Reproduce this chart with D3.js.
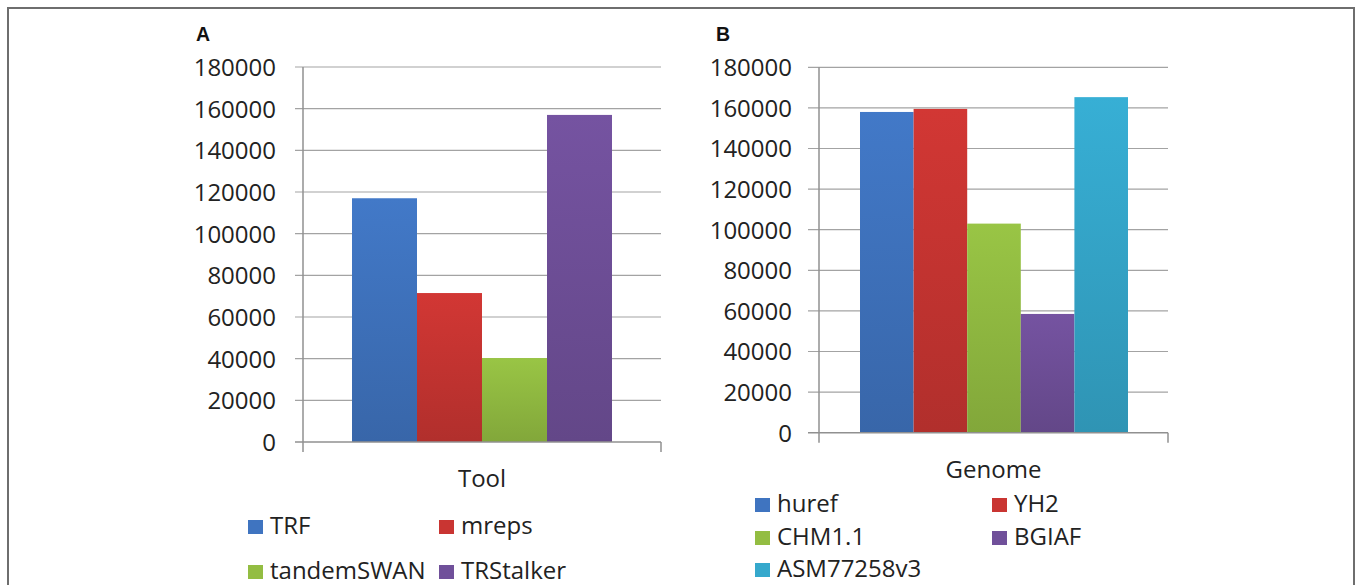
<!DOCTYPE html>
<html>
<head>
<meta charset="utf-8">
<script src="https://cdn.jsdelivr.net/npm/d3@7"></script>
<style>
  html, body { margin: 0; padding: 0; background: #fff; }
  svg { display: block; }
</style>
</head>
<body>
<svg id="chart" width="1358" height="585"></svg>
<script>
// ---- data ----
const yTicks = [0, 20000, 40000, 60000, 80000, 100000, 120000, 140000, 160000, 180000];

const toolCategory = "Tool";
const toolNames = ["TRF", "mreps", "tandemSWAN", "TRStalker"];
const toolValues = [117000, 71500, 40300, 157000];
const toolColors = ["#3f74c0", "#c93532", "#93bd42", "#70509a"];

const genomeCategory = "Genome";
const genomeNames = ["huref", "YH2", "CHM1.1", "BGIAF", "ASM77258v3"];
const genomeValues = [158000, 159500, 103000, 58500, 165300];
const genomeColors = ["#3f74c0", "#c93532", "#93bd42", "#70509a", "#35a8cc"];

// ---- drawing ----
const svg = d3.select("#chart");
const FONT = "'Open Sans', 'Noto Sans', sans-serif";

// outer frame
svg.append("rect")
  .attr("x", 8).attr("y", 8).attr("width", 1346).attr("height", 600)
  .attr("fill", "none").attr("stroke", "#6e6e6e").attr("stroke-width", 2);

const defs = svg.append("defs");
function gradientFor(id, color) {
  const c = d3.color(color);
  const g = defs.append("linearGradient").attr("id", id)
    .attr("x1", 0).attr("y1", 0).attr("x2", 0).attr("y2", 1);
  g.append("stop").attr("offset", "0%").attr("stop-color", c.brighter(0.12).formatHex());
  g.append("stop").attr("offset", "100%").attr("stop-color", c.darker(0.35).formatHex());
  return `url(#${id})`;
}

function panel(cfg) {
  const g = svg.append("g");
  const y = d3.scaleLinear().domain([0, 180000]).range([cfg.y0, cfg.y1]);
  const x = d3.scaleBand().domain(cfg.names).range([cfg.barL, cfg.barR]).padding(0);

  // panel letter
  g.append("text").attr("x", cfg.letterX).attr("y", 41)
    .attr("font-family", "'Liberation Sans', Arial, sans-serif")
    .attr("font-weight", "bold").attr("font-size", 19.5).attr("fill", "#111")
    .text(cfg.letter);

  // gridlines
  g.selectAll(".grid").data(yTicks.filter(d => d > 0)).enter().append("line")
    .attr("x1", cfg.gridL).attr("x2", cfg.gridR)
    .attr("y1", d => y(d)).attr("y2", d => y(d))
    .attr("stroke", "#a3a3a3").attr("stroke-width", 1.2);

  // y axis
  const axis = d3.axisLeft(y).tickValues(yTicks).tickFormat(d3.format("d"))
    .tickSize(0).tickPadding(0);
  const ag = g.append("g").attr("transform", `translate(${cfg.labelR},0)`).call(axis);
  ag.select(".domain").remove();
  ag.selectAll("text").attr("font-family", FONT).attr("font-size", 24)
    .attr("fill", "#222").attr("dy", "0.35em");

  // bars
  g.selectAll(".bar").data(cfg.names).enter().append("rect")
    .attr("x", d => x(d)).attr("width", x.bandwidth())
    .attr("y", (d, i) => y(cfg.values[i]))
    .attr("height", (d, i) => y(0) - y(cfg.values[i]))
    .attr("fill", (d, i) => gradientFor(cfg.letter + i, cfg.colors[i]));

  // axis lines
  g.append("line").attr("x1", cfg.axisX).attr("x2", cfg.axisX)
    .attr("y1", y(180000)).attr("y2", y(0) + 10)
    .attr("stroke", "#909090").attr("stroke-width", 1.5);
  g.append("line").attr("x1", cfg.gridL).attr("x2", cfg.gridR)
    .attr("y1", y(0)).attr("y2", y(0))
    .attr("stroke", "#909090").attr("stroke-width", 1.5);
  g.append("line").attr("x1", cfg.gridR).attr("x2", cfg.gridR)
    .attr("y1", y(0)).attr("y2", y(0) + 10)
    .attr("stroke", "#909090").attr("stroke-width", 1.5);

  // category title
  g.append("text").attr("x", (cfg.axisX + cfg.gridR) / 2).attr("y", cfg.titleY)
    .attr("text-anchor", "middle").attr("font-family", FONT).attr("font-size", 24)
    .attr("fill", "#222").text(cfg.category);

  // legend
  cfg.names.forEach((n, i) => {
    const col = i % 2, row = Math.floor(i / 2);
    const lx = cfg.legX[col], ly = cfg.legY[row];
    g.append("rect").attr("x", lx).attr("y", ly - 14).attr("width", 15).attr("height", 14)
      .attr("fill", cfg.colors[i]);
    g.append("text").attr("x", lx + 22).attr("y", ly)
      .attr("font-family", FONT).attr("font-size", 24).attr("fill", "#222").text(n);
  });
}

panel({
  letter: "A", letterX: 196, category: toolCategory,
  names: toolNames, values: toolValues, colors: toolColors,
  y0: 442, y1: 67, labelR: 276, gridL: 295, gridR: 661, axisX: 303,
  barL: 352, barR: 612, titleY: 487,
  legX: [248, 439], legY: [534, 579]
});

panel({
  letter: "B", letterX: 716, category: genomeCategory,
  names: genomeNames, values: genomeValues, colors: genomeColors,
  y0: 432.7, y1: 67.3, labelR: 792, gridL: 808, gridR: 1168, axisX: 819,
  barL: 860, barR: 1128, titleY: 478,
  legX: [755, 992], legY: [512, 545, 577]
});
</script>
</body>
</html>
